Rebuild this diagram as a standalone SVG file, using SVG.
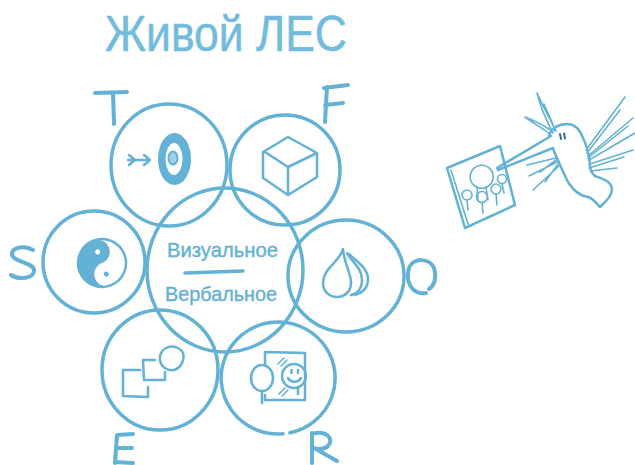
<svg xmlns="http://www.w3.org/2000/svg" width="635" height="465" viewBox="0 0 635 465">
  <defs>
    <style>
      .ln { fill: none; stroke: #63b1d5; stroke-width: 3.5; stroke-linecap: round; stroke-linejoin: round; }
      .thin { fill: none; stroke: #63b1d5; stroke-width: 2.5; stroke-linecap: round; stroke-linejoin: round; }
      .hair { fill: none; stroke: #63b1d5; stroke-width: 1.6; stroke-linecap: round; stroke-linejoin: round; }
      .letter { fill: none; stroke: #63b1d5; stroke-width: 4; stroke-linecap: round; stroke-linejoin: round; }
      .fillb { fill: #63b1d5; }
      .title { font-family: "Liberation Sans", "DejaVu Sans", sans-serif; font-size: 50px; fill: #72bbdc; stroke: #72bbdc; stroke-width: 0.5; }
      .hand { font-family: "Liberation Sans", "DejaVu Sans", sans-serif; font-size: 21px; fill: #63b1d5; stroke: #63b1d5; stroke-width: 0.4; }
    </style>
  </defs>

  <rect width="635" height="465" fill="#ffffff"/>

  <!-- title -->
  <text class="title" x="105" y="51" textLength="242" lengthAdjust="spacingAndGlyphs">Живой ЛЕС</text>

  <!-- circles of the flower -->
  <g id="connectors">
    <ellipse id="ring-center" class="ln" cx="225" cy="270" rx="78" ry="82"/>
  </g>

  <g id="node-center">
    <text class="hand" x="167" y="257" textLength="111" lengthAdjust="spacingAndGlyphs">Визуальное</text>
    <path class="ln" d="M185,273 L243,271"/>
    <text class="hand" x="165" y="301" textLength="112" lengthAdjust="spacingAndGlyphs">Вербальное</text>
  </g>

  <!-- T : target -->
  <g id="node-T">
    <ellipse class="ln" cx="169" cy="165" rx="58" ry="61"/>
    <path class="letter" d="M95,93 L127,92 M113,93 L114,124"/>
    <ellipse class="fillb" cx="174.5" cy="159" rx="16.5" ry="26"/>
    <ellipse fill="#ffffff" cx="174" cy="159" rx="8.5" ry="16"/>
    <ellipse fill="#9fd0e8" stroke="#63b1d5" stroke-width="2" cx="173" cy="158" rx="4.5" ry="6.5"/>
    <path class="thin" d="M128,160 L150,160 M144,155 L150,160 L144,165 M129,155 L135,160 L129,165"/>
  </g>

  <!-- F : cube -->
  <g id="node-F">
    <circle class="ln" cx="285" cy="170" r="55"/>
    <path class="letter" d="M327,87 L325,122 M324,88 L348,85 M325,105 L343,103"/>
    <path class="thin" d="M288,137 L263,152 L263,178 L288,195 L317,177 L317,153 Z M265,152 L288,167 L317,153 M288,167 L288,195"/>
  </g>

  <!-- S : yin-yang -->
  <g id="node-S">
    <circle class="ln" cx="94" cy="262" r="51"/>
    <path class="letter" d="M33,250 C25,245 12,247 12,254 C12,262 33,262 34,270 C35,279 18,280 11,275"/>
    <g transform="translate(102,263) rotate(-21)">
      <path class="fillb" d="M0,-24 A24,24 0 0 0 0,24 A12,12 0 0 1 0,0 A12,12 0 0 0 0,-24 Z"/>
      <circle class="thin" cx="0" cy="0" r="24"/>
      <circle fill="#ffffff" cx="0" cy="-12" r="2.5"/>
      <circle class="fillb" cx="0" cy="12" r="2.5"/>
    </g>
  </g>

  <!-- O : drop -->
  <g id="node-O">
    <ellipse class="ln" cx="346" cy="276" rx="58" ry="56"/>
    <path class="letter" d="M426,293 C412,295 405,282 409,268 C413,257 430,258 434,268 C437,278 434,286 429,289"/>
    <path class="thin" d="M343,249 C340,262 323,268 323,283 C323,292 330,297 337,297 C345,297 351,291 351,283 C351,272 344,264 343,249 Z"/>
    <path class="thin" d="M347,253 C352,262 362,268 362,280 C362,289 357,294 351,295"/>
    <path class="thin" d="M349,254 C357,262 368,268 368,279 C368,288 362,293 355,295"/>
  </g>

  <!-- E : shapes -->
  <g id="node-E">
    <ellipse class="ln" cx="160" cy="370" rx="58" ry="60"/>
    <path class="letter" d="M117,435 L115,463 M117,435 L133,434 M117,448 L132,448 M115,462 L133,463"/>
    <path class="thin" d="M140,370 L123,370 L123,396 L148,397 L148,387"/>
    <path class="thin" d="M155,360 L143,360 L144,380 L165,380 L165,372"/>
    <path class="thin" d="M166,348 C172,345 180,347 183,353 C185,360 181,368 174,370 C167,371 161,367 160,360 C159,355 162,350 166,348 Z"/>
  </g>

  <!-- R : mirror -->
  <g id="node-R">
    <path class="ln" d="M289.9,432.8 A57,56 0 1 0 283,433.8"/>
    <path class="letter" d="M312,433 L312,463 M312,434 C325,430 335,438 328,446 C324,450 316,449 314,448 L337,461"/>
    <path class="thin" d="M265,365 L265,352 L305,353 L305,400 L265,400 L265,395"/>
    <ellipse fill="#ffffff" class="thin" cx="262" cy="378" rx="11" ry="13"/>
    <path class="thin" d="M262,391 L262,403"/>
    <circle class="thin" cx="294" cy="376" r="12"/>
    <path class="thin" d="M291.5,370 L291.5,373 M298,370 L298,373 M288,378 C291,383 298,383 301,378 M298,388 L298,394"/>
    <path class="hair" d="M278,364 L284,358 M281,366 L287,360 M279,394 L285,388 M282,396 L288,390"/>
  </g>

  <!-- hummingbird with a picture -->
  <g id="bird">
    <path class="thin" d="M447,168 L500,146 L515,205 L465,228 Z"/>
    <path class="hair" d="M451,170 L468,224"/>
    <circle class="hair" cx="481.7" cy="176.7" r="11.5"/>
    <circle class="hair" cx="467" cy="195" r="5"/>
    <circle class="hair" cx="482" cy="197" r="5.5"/>
    <circle class="hair" cx="496" cy="189" r="5"/>
    <circle class="hair" cx="502" cy="179" r="4.5"/>
    <path class="hair" d="M467,200 L468,210 M482,202.5 L483,213 M496,194 L497,205 M502,183.5 L504,193 M477,187 L478,200 M486,187 L488,200"/>
    <!-- beak -->
    <path class="thin" d="M497,168 L551,136 M498,170 L553,148"/>
    <!-- body -->
    <path class="thin" d="M549,136 C551,128 559,124 567,124 C575,124 580,130 583,138 C586,144 588,150 589,158 C590,166 590,172 595,176 C603,179 611,181 612,189 C612,196 606,201 600,207 C597,204 594,199 588,197 C580,196 573,190 568,182 C563,172 558,160 553,149"/>
    <path d="M560,134 L561,139 M564,133.5 L565,138.5" stroke="#2f6f8f" stroke-width="2" stroke-linecap="round" fill="none"/>
    <!-- feathers -->
    <path class="hair" d="M553,133 C546,120 540,105 537,93 C543,106 550,120 556,131 M550,134 C542,128 532,122 525,117 C533,120 543,125 552,131 M555,131 C552,120 547,112 544,104"/>
    <path class="hair" d="M586,150 L625,97 M587,153 L620,110 M588,156 L633,118 M589,160 L635,133 M590,164 L633,150 M589,168 L624,157 M590,171 L617,168 M588,158 L628,126"/>
    <path class="hair" d="M556,158 L527,165 M557,162 L529,176 M559,166 L533,190 M556,160 L540,172 M558,164 L545,182"/>
  </g>
</svg>
